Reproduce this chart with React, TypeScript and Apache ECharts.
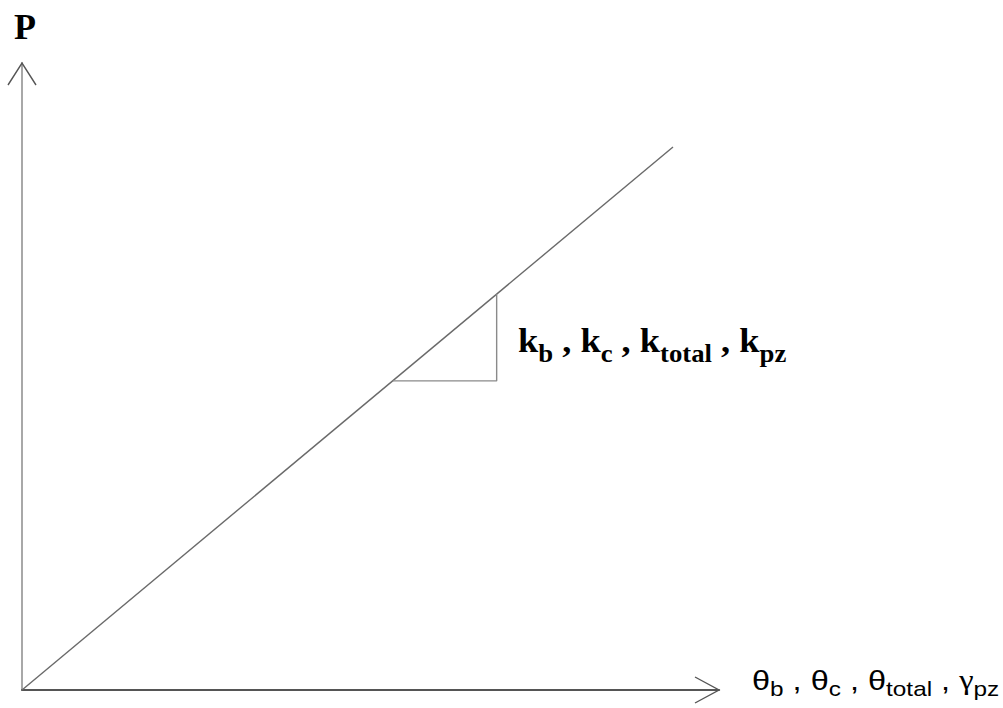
import React, { useEffect, useRef } from "react";
import * as echarts from "echarts";

// Load–deformation relation: straight line through the origin
const lineX = [0, 93.4];
const lineY = [0, 86.6];
// Slope triangle under the line
const stepX = [53.2, 68.1, 68.1];
const stepY = [49.3, 49.3, 63.1];
const axisMax = 100;

const yAxisName = "P";
const slopeTerms = [
  ["k", "b"],
  ["k", "c"],
  ["k", "total"],
  ["k", "pz"],
];
const xTerms = [
  ["θ", "b", "t"],
  ["θ", "c", "t"],
  ["θ", "total", "t"],
  ["γ", "pz", "g"],
];

const serif = "'Liberation Serif', 'Times New Roman', serif";
const sans = "'Liberation Sans', Arial, sans-serif";

export default function App() {
  const ref = useRef<HTMLDivElement>(null);

  useEffect(() => {
    if (!ref.current) return;
    const chart = echarts.init(ref.current, undefined, { renderer: "svg" });

    const slopeText = slopeTerms
      .map(([m, s]) => `{k|${m}}{s|${s}}`)
      .join("{k| , }");
    const xText = xTerms
      .map(([m, s, st]) => `{${st}|${m}}{xs|${s}}`)
      .join("{xc| , }");

    chart.setOption({
      animation: false,
      backgroundColor: "#ffffff",
      grid: { left: 22, right: 284, top: 63, bottom: 18 },
      xAxis: {
        type: "value",
        min: 0,
        max: axisMax,
        axisLine: { lineStyle: { color: "#555555", width: 2 } },
        axisTick: { show: false },
        axisLabel: { show: false },
        splitLine: { show: false },
      },
      yAxis: {
        type: "value",
        min: 0,
        max: axisMax,
        axisLine: { show: true, lineStyle: { color: "#a8a8a8", width: 2 } },
        axisTick: { show: false },
        axisLabel: { show: false },
        splitLine: { show: false },
      },
      series: [
        {
          type: "line",
          data: lineX.map((x, i) => [x, lineY[i]]),
          symbol: "none",
          lineStyle: { color: "#6a6a6a", width: 1.4 },
          silent: true,
        },
        {
          type: "line",
          data: stepX.map((x, i) => [x, stepY[i]]),
          symbol: "none",
          lineStyle: { color: "#8a8a8a", width: 1.4 },
          silent: true,
        },
        {
          type: "custom",
          silent: true,
          clip: false,
          data: [[axisMax, axisMax]],
          renderItem: (_params: any, api: any) => {
            const xTip = api.coord([axisMax, 0]);
            const yTip = api.coord([0, axisMax]);
            return {
              type: "group",
              children: [
                {
                  type: "polyline",
                  shape: {
                    points: [
                      [xTip[0] - 24, xTip[1] - 13],
                      [xTip[0], xTip[1]],
                      [xTip[0] - 24, xTip[1] + 13],
                    ],
                  },
                  style: { stroke: "#555555", lineWidth: 1.4, fill: null },
                },
                {
                  type: "polyline",
                  shape: {
                    points: [
                      [yTip[0] - 14, yTip[1] + 22],
                      [yTip[0], yTip[1]],
                      [yTip[0] + 14, yTip[1] + 22],
                    ],
                  },
                  style: { stroke: "#555555", lineWidth: 1.4, fill: null },
                },
              ],
            };
          },
        },
      ],
      graphic: [
        {
          type: "text",
          x: 14,
          y: 9,
          style: {
            text: yAxisName,
            font: `bold 36px ${serif}`,
            fill: "#000000",
            align: "left",
            verticalAlign: "top",
          },
        },
        {
          type: "text",
          x: 518,
          y: 332,
          scaleX: 1.07,
          style: {
            text: slopeText,
            fill: "#000000",
            align: "left",
            verticalAlign: "top",
            rich: {
              k: {
                fontFamily: serif,
                fontWeight: "bold",
                fontSize: 34,
                lineHeight: 34,
                verticalAlign: "bottom",
                padding: [0, 0, 8, 0],
                fill: "#000000",
              },
              s: {
                fontFamily: serif,
                fontWeight: "bold",
                fontSize: 25,
                lineHeight: 25,
                verticalAlign: "bottom",
                fill: "#000000",
              },
            },
          },
        },
        {
          type: "text",
          x: 752,
          y: 671,
          scaleX: 1.16,
          style: {
            text: xText,
            fill: "#000000",
            align: "left",
            verticalAlign: "top",
            rich: {
              t: {
                fontFamily: sans,
                fontSize: 28,
                lineHeight: 28,
                verticalAlign: "bottom",
                padding: [0, 0, 5, 0],
                fill: "#000000",
              },
              g: {
                fontFamily: serif,
                fontSize: 28,
                lineHeight: 28,
                verticalAlign: "bottom",
                padding: [0, 0, 5, 0],
                fill: "#000000",
              },
              xc: {
                fontFamily: sans,
                fontSize: 28,
                lineHeight: 28,
                verticalAlign: "bottom",
                padding: [0, 0, 5, 0],
                fill: "#000000",
              },
              xs: {
                fontFamily: sans,
                fontSize: 21,
                lineHeight: 21,
                verticalAlign: "bottom",
                fill: "#000000",
              },
            },
          },
        },
      ],
    });

    return () => chart.dispose();
  }, []);

  return (
    <div
      ref={ref}
      style={{ position: "fixed", left: 0, top: 0, width: 1003, height: 708 }}
    />
  );
}
